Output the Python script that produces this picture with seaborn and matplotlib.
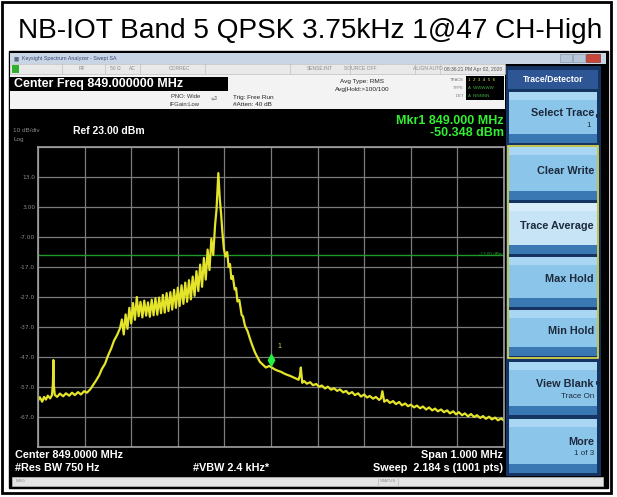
import numpy as np
import pandas as pd
import matplotlib
matplotlib.use("Agg")
import matplotlib.pyplot as plt
import seaborn as sns
from matplotlib.patches import Rectangle

# screen values
title = "NB-IOT Band 5 QPSK 3.75kHz 1@47 CH-High"
center_mhz = 849.0
span_mhz = 1.0
ref_dbm = 23.0
db_per_div = 10
display_line_dbm = -13.0
mkr_freq_mhz = 849.000
mkr_level_dbm = -50.348

# trace: offset from start of span (kHz) and level (dBm)
offset_khz = [0, 4, 9, 13, 17, 21, 26, 30, 32, 33,
              34, 36, 41, 47, 54, 60, 67, 73, 79, 86,
              92, 99, 105, 112, 118, 124, 131, 137, 144, 150,
              157, 163, 170, 176, 180, 184, 188, 192, 196, 200,
              204, 208, 212, 216, 220, 224, 228, 232, 236, 240,
              244, 248, 252, 256, 260, 264, 268, 272, 276, 280,
              284, 288, 292, 296, 300, 304, 308, 312, 316, 320,
              324, 328, 332, 336, 340, 344, 348, 352, 356, 360,
              364, 368, 372, 376, 380, 383, 387, 390, 393, 396,
              399, 402, 406, 409, 412, 415, 418, 422, 425, 428,
              432, 437, 440, 444, 450, 455, 460, 466, 471, 476,
              483, 489, 496, 500, 509, 515, 521, 528, 534, 541,
              547, 554, 559, 562, 564, 567, 571, 577, 584, 590,
              597, 603, 609, 616, 622, 629, 635, 642, 648, 655,
              661, 667, 674, 680, 687, 693, 700, 706, 712, 719,
              725, 732, 736, 739, 743, 749, 755, 762, 768, 775,
              781, 788, 794, 800, 807, 813, 820, 826, 833, 839,
              846, 852, 858, 865, 871, 878, 884, 891, 897, 903,
              910, 916, 923, 929, 936, 942, 949, 955, 961, 968,
              974, 981, 987, 994, 1000]
level_dbm = [-61.5, -60.4, -61.9, -60.3, -61.2, -59.9, -60.8, -59.7, -56.0, -48.0,
             -56.5, -59.6, -60.3, -59.2, -60.1, -59.1, -59.9, -58.9, -59.7, -58.7,
             -59.5, -58.4, -58.9, -57.8, -56.4, -55.0, -53.2, -51.0, -49.2, -46.6,
             -44.2, -41.6, -39.6, -37.4, -34.5, -39.5, -32.8, -37.6, -30.6, -35.8,
             -29.0, -34.6, -27.0, -33.4, -28.6, -33.8, -28.2, -33.2, -28.8, -33.6,
             -27.9, -33.1, -27.4, -32.9, -27.2, -32.4, -26.3, -32.2, -25.7, -31.7,
             -25.4, -31.2, -24.6, -30.6, -23.9, -30.0, -23.1, -29.3, -22.2, -28.6,
             -21.4, -27.8, -20.2, -26.6, -18.4, -25.0, -16.2, -23.6, -14.0, -21.2,
             -11.2, -18.0, -7.6, -13.0, -3.0, 2.0, 14.3, 6.0, 0.5, -6.0,
             -11.0, -13.5, -12.0, -17.0, -16.0, -21.0, -20.0, -24.5, -24.0, -28.5,
             -28.0, -33.0, -33.5, -36.5, -38.5, -41.0, -43.2, -45.6, -47.1, -48.6,
             -49.6, -50.5, -50.0, -50.35, -51.2, -51.6, -51.9, -52.5, -52.9, -53.3,
             -53.7, -54.2, -54.6, -53.2, -50.5, -55.6, -55.0, -55.9, -55.4, -56.4,
             -56.0, -56.9, -56.5, -57.5, -56.9, -57.9, -57.4, -58.3, -57.8, -58.8,
             -58.3, -59.3, -58.7, -59.7, -59.1, -60.2, -59.5, -60.5, -60.0, -60.9,
             -60.3, -61.3, -60.8, -58.4, -61.9, -61.3, -62.3, -61.7, -62.7, -62.0,
             -63.1, -62.5, -63.4, -62.9, -63.8, -63.2, -64.1, -63.5, -64.5, -63.8,
             -64.8, -64.2, -65.1, -64.5, -65.4, -64.8, -65.8, -65.1, -66.1, -65.4,
             -66.4, -65.8, -66.8, -66.0, -67.0, -66.4, -67.3, -66.7, -67.6, -66.9,
             -67.8, -67.2, -68.1, -67.5, -68.2]

ytick_labels = ["", "13.0", "3.00", "-7.00", "-17.0", "-27.0", "-37.0",
                "-47.0", "-57.0", "-67.0", ""]

softkeys = ["Select Trace", "Clear Write", "Trace Average", "Max Hold",
            "Min Hold", "View Blank", "More"]
softkey_sub = ["1", "", "", "", "", "Trace On", "1 of 3"]

df = pd.DataFrame({
    "freq": center_mhz - span_mhz / 2 + np.array(offset_khz) / 1000.0,
    "level": level_dbm,
})

W, H = 617, 497
fig = plt.figure(figsize=(W / 100, H / 100), dpi=100)
fig.patch.set_facecolor("white")

# background layer in pixel coordinates (window chrome)
bg = fig.add_axes([0, 0, 1, 1])
bg.set_xlim(0, W)
bg.set_ylim(H, 0)
bg.axis("off")

FONT = "Liberation Sans"

bg.add_patch(Rectangle((2, 2), 609, 491, fill=False, ec="black", lw=2))
bg.text(310, 31, title, ha="center", va="center", fontsize=20.2, family=FONT)

# analyzer screen
bg.add_patch(Rectangle((9, 51), 599, 437, fc="black", ec="black"))
# window title bar
bg.add_patch(Rectangle((10, 53), 596, 11, fc="#c9d5e5", ec="none"))
bg.text(14, 58.5, "■", color="#5a6a80", fontsize=4, va="center")
bg.text(22, 58.5, "Keysight Spectrum Analyzer - Swept SA", color="#3a4a78",
        fontsize=3.8, va="center", family=FONT)
bg.add_patch(Rectangle((560, 54), 12, 8, fc="#b8c6da", ec="#8a9ab0", lw=0.5))
bg.add_patch(Rectangle((573, 54), 12, 8, fc="#b8c6da", ec="#8a9ab0", lw=0.5))
bg.add_patch(Rectangle((586, 54), 14, 8, fc="#c8463c", ec="#8a3a30", lw=0.5))

# status row + info panel
bg.add_patch(Rectangle((10, 64), 495, 45, fc="#f3f3f3", ec="none"))
bg.add_patch(Rectangle((10, 64), 495, 10, fc="#e9e9e9", ec="#c0c0c0", lw=0.5))
bg.add_patch(Rectangle((12, 65), 7, 8, fc="#2fb02f", ec="none"))
for sx in [62, 105, 140, 205, 290, 350, 415, 440]:
    bg.plot([sx, sx], [64, 74], color="#c0c0c0", lw=0.5)
status_x = [82, 115, 132, 180, 320, 360, 428]
status_txt = ["RF", "50 Ω", "AC", "CORREC", "SENSE:INT", "SOURCE OFF", "ALIGN AUTO"]
for sx, st in zip(status_x, status_txt):
    bg.text(sx, 69, st, fontsize=3.6, color="#8a8a8a", ha="center", va="center", family=FONT)
bg.text(473, 69, "08:36:21 PM Apr 02, 2020", fontsize=3.6, color="#555555",
        ha="center", va="center", family=FONT)

bg.add_patch(Rectangle((10, 77), 218, 14, fc="black", ec="none"))
bg.text(14, 84, "Center Freq 849.000000 MHz", color="white", fontsize=9.0,
        fontweight="bold", va="center", family=FONT)
bg.text(200, 97, "PNO: Wide", fontsize=4.2, ha="right", va="center", family=FONT, color="#333333")
bg.text(200, 104, "IFGain:Low", fontsize=4.2, ha="right", va="center", family=FONT, color="#333333")
bg.text(211, 98, "⏎", fontsize=5, va="center", color="#555555")
bg.text(233, 97, "Trig: Free Run", fontsize=4.6, va="center", family=FONT, color="#222222")
bg.text(233, 104, "#Atten: 40 dB", fontsize=4.6, va="center", family=FONT, color="#222222")
bg.text(362, 82, "Avg Type: RMS", fontsize=4.6, ha="center", va="center", family=FONT, color="#222222")
bg.text(362, 90, "Avg|Hold:>100/100", fontsize=4.6, ha="center", va="center", family=FONT, color="#222222")
for ty, tl in zip([80, 88, 96], ["TRACE", "TYPE", "DET"]):
    bg.text(464, ty, tl, fontsize=3, ha="right", va="center", family=FONT, color="#777777")
bg.add_patch(Rectangle((466, 76), 38, 24, fc="black", ec="none"))
bg.text(468, 80, "1  2  3  4  5  6", fontsize=3.2, va="center", family=FONT, color="#e0e040")
bg.text(468, 88, "A  WWWWW", fontsize=3.2, va="center", family=FONT, color="#40b040")
bg.text(468, 96, "A  NNNNN", fontsize=3.2, va="center", family=FONT, color="#40b040")

# screen annotations
bg.text(13, 131, "10 dB/div", color="#8a8a8a", fontsize=4.6, va="center", family=FONT)
bg.text(13, 140, "Log", color="#8a8a8a", fontsize=4.6, va="center", family=FONT)
bg.text(73, 131, "Ref 23.00 dBm", color="white", fontsize=7.5, fontweight="bold",
        va="center", family=FONT)
bg.text(504, 121, "Mkr1 849.000 MHz", color="#33ee33", fontsize=9, fontweight="bold",
        ha="right", va="center", family=FONT)
bg.text(504, 133, "-50.348 dBm", color="#33ee33", fontsize=9, fontweight="bold",
        ha="right", va="center", family=FONT)
bg.text(15, 455, "Center 849.0000 MHz", color="white", fontsize=7.8, fontweight="bold",
        va="center", family=FONT)
bg.text(15, 468, "#Res BW 750 Hz", color="white", fontsize=7.8, fontweight="bold",
        va="center", family=FONT)
bg.text(193, 468, "#VBW 2.4 kHz*", color="white", fontsize=7.8, fontweight="bold",
        va="center", family=FONT)
bg.text(503, 455, "Span 1.000 MHz", color="white", fontsize=7.8, fontweight="bold",
        ha="right", va="center", family=FONT)
bg.text(503, 468, "Sweep  2.184 s (1001 pts)", color="white", fontsize=7.8,
        fontweight="bold", ha="right", va="center", family=FONT)

# message bar
bg.add_patch(Rectangle((12, 477), 591, 9, fc="#e4e4e4", ec="#bdbdbd", lw=0.5))
bg.text(16, 481.5, "MSG", fontsize=3.2, color="#888888", va="center", family=FONT)
bg.plot([378, 378], [477, 486], color="#bdbdbd", lw=0.5)
bg.plot([398, 398], [477, 486], color="#bdbdbd", lw=0.5)
bg.text(388, 481.5, "STATUS", fontsize=3.2, color="#888888", ha="center", va="center", family=FONT)

# softkey panel
bg.add_patch(Rectangle((506, 66), 95, 410, fc="#163461", ec="none"))
bg.add_patch(Rectangle((508, 70), 90, 19, fc="#2e5694", ec="none"))
bg.text(553, 79.5, "Trace/Detector", color="white", fontsize=6.2, fontweight="bold",
        ha="center", va="center", family=FONT)
key_y = [(92, 143), (147, 200), (203, 254), (257, 307), (310, 356), (362, 415), (419, 473)]
for i, (y0, y1) in enumerate(key_y):
    top = "#d8edf9" if softkeys[i] == "Trace Average" else "#a9d6f2"
    mid = "#c6e4f6" if softkeys[i] == "Trace Average" else "#8cc5ea"
    bg.add_patch(Rectangle((509, y0), 88, y1 - y0, fc=mid, ec="none"))
    bg.add_patch(Rectangle((509, y0), 88, 8, fc=top, ec="none"))
    bg.add_patch(Rectangle((509, y1 - 9), 88, 9, fc="#3a78b4", ec="none"))
    label_y = y0 + (y1 - y0) * 0.42 if softkey_sub[i] else y0 + (y1 - y0) * 0.45
    bg.text(594, label_y, softkeys[i], color="#1c2a3c", fontsize=7.8, fontweight="bold",
            ha="right", va="center", family=FONT)
    if softkey_sub[i]:
        bg.text(594 if softkeys[i] != "Select Trace" else 591, label_y + 12, softkey_sub[i],
                color="#1c2a3c", fontsize=5.8, ha="right", va="center", family=FONT)
for ay in [115, 382]:
    bg.text(600, ay, "▸", color="#1c2a3c", fontsize=6, ha="right", va="center")
bg.add_patch(Rectangle((508, 145.5), 90, 212, fill=False, ec="#e6e04a", lw=1.2))

# main trace display
ax = fig.add_axes([38 / W, 1 - 447 / H, 466 / W, 300 / H])
ax.set_facecolor("black")
sns.lineplot(data=df, x="freq", y="level", ax=ax, color="#e4e42a", lw=1.6,
             estimator=None, sort=False)
ax.axhline(display_line_dbm, color="#1f9a2a", lw=1.0, zorder=1)
ax.text(center_mhz + span_mhz / 2 - 0.004, display_line_dbm, "-13.00 dBm",
        color="#1f9a2a", fontsize=3.3, ha="right", va="center", family=FONT)

# marker 1 (diamond sitting on the trace point)
diamond = [(0, 0), (-0.6, 1.1), (0, 2.2), (0.6, 1.1), (0, 0)]
ax.scatter([mkr_freq_mhz], [mkr_level_dbm], marker=diamond, s=430,
           color="#22ee44", zorder=5, linewidths=0)
ax.annotate("1", (mkr_freq_mhz, mkr_level_dbm), xytext=(5, 14),
            textcoords="offset points", color="#c8e040", fontsize=5, family=FONT)

bottom = ref_dbm - 10 * db_per_div
ax.set_xlim(center_mhz - span_mhz / 2, center_mhz + span_mhz / 2)
ax.set_ylim(bottom, ref_dbm)
ax.set_xticks(np.linspace(center_mhz - span_mhz / 2, center_mhz + span_mhz / 2, 11))
ax.set_yticks(np.arange(ref_dbm, bottom - 1, -db_per_div))
ax.set_yticklabels(ytick_labels)
ax.set_xticklabels([])
ax.set_xlabel("")
ax.set_ylabel("")
ax.tick_params(length=0, labelsize=4.2, labelcolor="#8a8a8a", pad=2)
ax.grid(True, color="#7c7c7c", lw=0.9)
ax.set_axisbelow(True)
for sp in ax.spines.values():
    sp.set_color("#a0a0a0")
    sp.set_linewidth(1.2)

fig.savefig("out.png", dpi=100, facecolor="white")
